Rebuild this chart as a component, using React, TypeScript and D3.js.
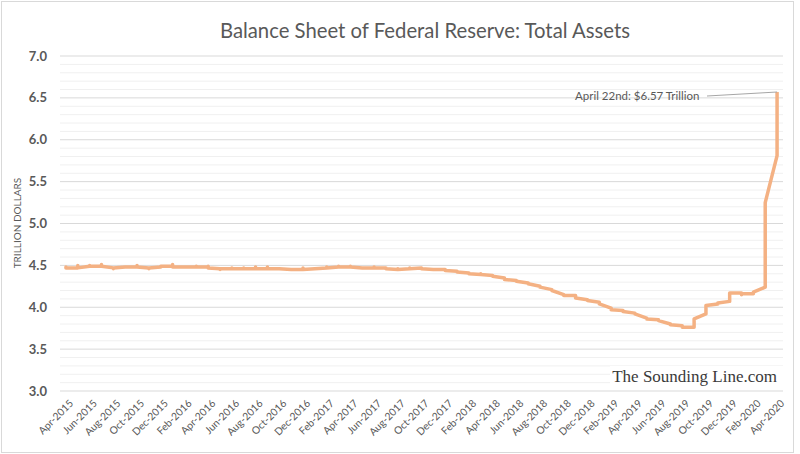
import React from "react";
import * as d3 from "d3";

const months = [
  "Apr-2015", "May-2015", "Jun-2015", "Jul-2015", "Aug-2015", "Sep-2015", "Oct-2015", "Nov-2015", "Dec-2015",
  "Jan-2016", "Feb-2016", "Mar-2016", "Apr-2016", "May-2016", "Jun-2016", "Jul-2016", "Aug-2016", "Sep-2016",
  "Oct-2016", "Nov-2016", "Dec-2016", "Jan-2017", "Feb-2017", "Mar-2017", "Apr-2017", "May-2017", "Jun-2017",
  "Jul-2017", "Aug-2017", "Sep-2017", "Oct-2017", "Nov-2017", "Dec-2017", "Jan-2018", "Feb-2018", "Mar-2018",
  "Apr-2018", "May-2018", "Jun-2018", "Jul-2018", "Aug-2018", "Sep-2018", "Oct-2018", "Nov-2018", "Dec-2018",
  "Jan-2019", "Feb-2019", "Mar-2019", "Apr-2019", "May-2019", "Jun-2019", "Jul-2019", "Aug-2019", "Sep-2019",
  "Oct-2019", "Nov-2019", "Dec-2019", "Jan-2020", "Feb-2020", "Mar-2020", "Apr-2020",
];

// weekly totals (trillion $), grouped by month
const weeklyAssets = [
  [4.47, 4.48, 4.48, 4.47], [4.47, 4.5, 4.47, 4.47], [4.49, 4.5, 4.5, 4.49], [4.49, 4.51, 4.49, 4.49],
  [4.47, 4.47, 4.46, 4.47], [4.48, 4.48, 4.48, 4.48], [4.48, 4.5, 4.49, 4.48], [4.47, 4.46, 4.47, 4.47],
  [4.48, 4.49, 4.49, 4.49], [4.49, 4.51, 4.49, 4.48], [4.48, 4.48, 4.48, 4.48], [4.48, 4.49, 4.48, 4.48],
  [4.48, 4.49, 4.47, 4.47], [4.46, 4.46, 4.45, 4.46], [4.46, 4.47, 4.46, 4.46], [4.46, 4.47, 4.46, 4.46],
  [4.46, 4.48, 4.46, 4.46], [4.46, 4.48, 4.46, 4.46], [4.46, 4.46, 4.46, 4.46], [4.45, 4.45, 4.45, 4.45],
  [4.45, 4.47, 4.45, 4.45], [4.46, 4.46, 4.46, 4.46], [4.47, 4.48, 4.47, 4.47], [4.48, 4.49, 4.48, 4.48],
  [4.48, 4.49, 4.48, 4.48], [4.47, 4.47, 4.47, 4.47], [4.47, 4.48, 4.47, 4.47], [4.47, 4.47, 4.47, 4.46],
  [4.45, 4.46, 4.45, 4.45], [4.46, 4.47, 4.46, 4.46], [4.47, 4.47, 4.46, 4.46], [4.45, 4.45, 4.45, 4.45],
  [4.45, 4.45, 4.44, 4.44], [4.43, 4.43, 4.42, 4.42], [4.41, 4.41, 4.4, 4.4], [4.39, 4.4, 4.39, 4.39],
  [4.38, 4.37, 4.37, 4.37], [4.35, 4.34, 4.34, 4.33], [4.32, 4.32, 4.31, 4.31], [4.29, 4.29, 4.28, 4.28],
  [4.25, 4.25, 4.24, 4.24], [4.21, 4.21, 4.21, 4.2], [4.15, 4.14, 4.14, 4.14], [4.14, 4.12, 4.12, 4.11],
  [4.09, 4.08, 4.08, 4.08], [4.06, 4.05, 4.05, 4.04], [3.99, 3.98, 3.98, 3.97], [3.96, 3.96, 3.95, 3.95],
  [3.93, 3.93, 3.92, 3.92], [3.87, 3.86, 3.86, 3.86], [3.85, 3.84, 3.84, 3.84], [3.8, 3.79, 3.79, 3.79],
  [3.78, 3.77, 3.76, 3.76], [3.76, 3.76, 3.86, 3.86], [3.92, 3.97, 4.0, 4.02], [4.04, 4.05, 4.05, 4.05],
  [4.07, 4.1, 4.13, 4.17], [4.17, 4.16, 4.15, 4.15, 4.16], [4.16, 4.17, 4.18, 4.18], [4.24, 4.36, 4.67, 5.25],
  [5.81, 6.13, 6.37, 6.57],
];

const yTicks = [3, 3.5, 4, 4.5, 5, 5.5, 6, 6.5, 7];
const xTickLabels = months.filter((_, i) => i % 2 === 0);

const textColor = "#595959";
const font = "Lato, 'Open Sans', sans-serif";

export default function App() {
  const x = d3.scalePoint<string>().domain(months).range([60, 783]).padding(0.5);
  const y = d3.scaleLinear().domain([3, 7]).range([391, 56]);

  const points: [string, number][] = [];
  months.forEach((m, i) => weeklyAssets[i].forEach((v) => points.push([m, v])));

  const line = d3
    .line<[string, number]>()
    .x((d) => x(d[0]) ?? 0)
    .y((d) => y(d[1]));

  const minorTicks = d3.range(30, 71).map((d) => d / 10).filter((d) => Math.round(d * 10) % 5 !== 0);
  const last = points[points.length - 1];
  const lx = x(last[0]) ?? 0;
  const ly = y(last[1]);

  return (
    <div style={{ position: "absolute", left: 0, top: 0 }}>
      <svg width={800} height={454} style={{ display: "block", fontFamily: font }}>
        <rect x={0} y={0} width={800} height={454} fill="#fff" />
        <rect x={1.5} y={1.5} width={792} height={451} fill="none" stroke="#d9d9d9" />

        <text x={425} y={38} textAnchor="middle" fontSize={20.3} fill={textColor}>
          Balance Sheet of Federal Reserve: Total Assets
        </text>

        {/* gridlines */}
        {minorTicks.map((t) => (
          <line key={"m" + t} x1={60} x2={783} y1={y(t)} y2={y(t)} stroke="#f0f0f0" strokeWidth={1} />
        ))}
        {yTicks.map((t) => (
          <line key={t} x1={60} x2={783} y1={y(t)} y2={y(t)} stroke="#d9d9d9" strokeWidth={1} />
        ))}

        {yTicks.map((t) => (
          <text key={"l" + t} x={47} y={y(t)} dy="0.35em" textAnchor="end" fontSize={13} fontWeight="bold" fill={textColor}>
            {d3.format(".1f")(t)}
          </text>
        ))}

        <text transform={`translate(21,223) rotate(-90)`} textAnchor="middle" fontSize={10} fill={textColor}>
          TRILLION DOLLARS
        </text>

        {xTickLabels.map((m) => (
          <text
            key={m}
            transform={`translate(${(x(m) ?? 0) + 8},404) rotate(-45)`}
            textAnchor="end"
            fontSize={10.3}
            fill={textColor}
          >
            {m}
          </text>
        ))}

        {/* watermark */}
        <rect x={610} y={366} width={173} height={23} fill="#fff" />
        <text x={777} y={382} textAnchor="end" fontSize={17} fill="#3a3a3a" fontFamily="'Liberation Serif', serif">
          The Sounding Line.com
        </text>

        <path d={line(points) ?? ""} fill="none" stroke="#f4b183" strokeWidth={3.5} strokeLinejoin="round" />

        {/* annotation */}
        <line x1={707} y1={96} x2={lx} y2={ly} stroke="#a6a6a6" strokeWidth={1} />
        <text x={575} y={96} dy="0.35em" fontSize={11.5} fill={textColor}>
          April 22nd: $6.57 Trillion
        </text>
      </svg>
    </div>
  );
}
